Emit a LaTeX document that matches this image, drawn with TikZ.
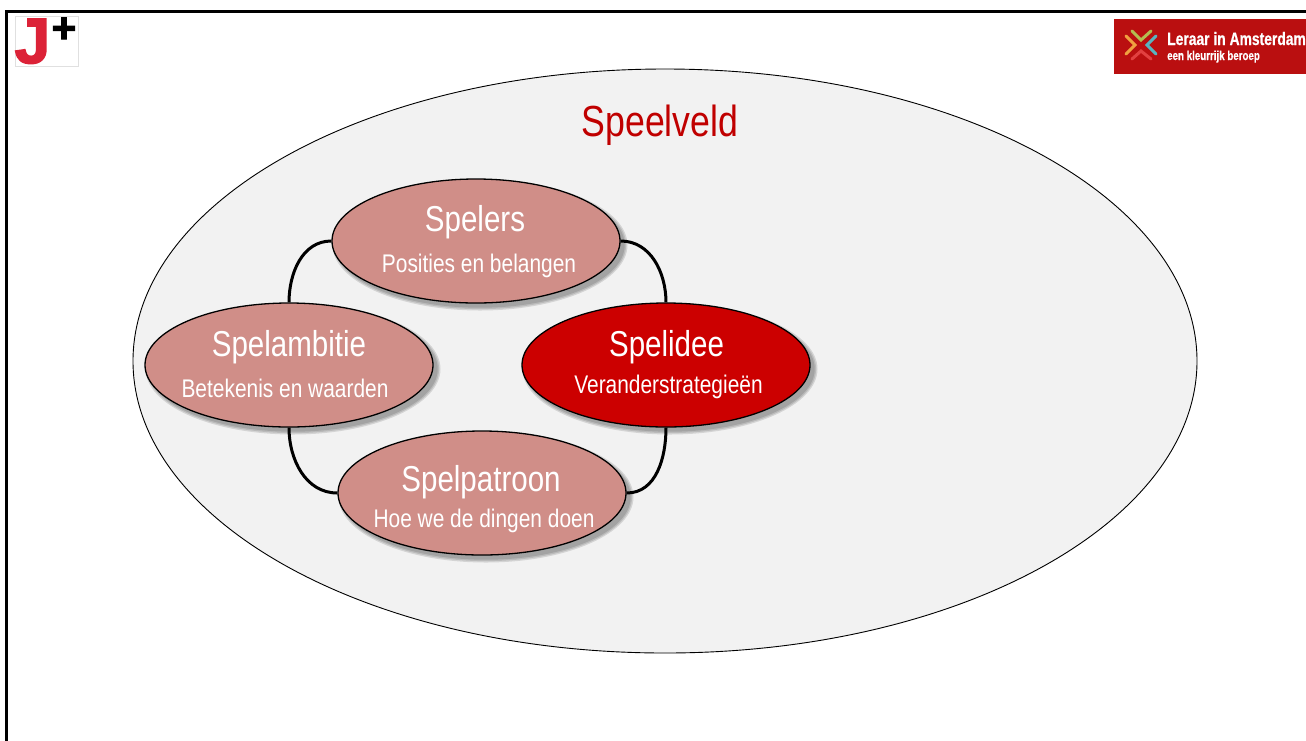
\documentclass[tikz,border=0pt]{standalone}
\usepackage{fontspec}
\setmainfont{Liberation Sans}
\newfontfamily\narrowf[FakeStretch=0.82]{Liberation Sans}
\newfontfamily\logof[FakeStretch=0.77,FakeBold=0.6]{Liberation Sans Bold}
\newfontfamily\logosub[FakeStretch=0.75,FakeBold=0.4]{Liberation Sans Bold}
\newfontfamily\jfont[FakeBold=2.5]{Liberation Sans Bold}
\usetikzlibrary{shapes.geometric}
\definecolor{veld}{HTML}{F2F2F2}
\definecolor{roze}{HTML}{D08E88}
\definecolor{rood}{HTML}{CC0000}
\definecolor{titel}{HTML}{C00000}
\definecolor{logorood}{HTML}{BA0F10}
\definecolor{jrood}{HTML}{DC2237}
\definecolor{chevgroen}{HTML}{B4BC50}
\definecolor{chevoranje}{HTML}{F0A040}
\definecolor{chevblauw}{HTML}{58B4C0}
\definecolor{chevrood}{HTML}{E24040}
\tikzset{
  x=1pt,y=-1pt,
  field/.style={ellipse,draw=black,line width=0.9pt,fill=veld,minimum width=1064pt,minimum height=584pt,inner sep=0pt},
  spel/.style={ellipse,draw=black,line width=1.3pt,minimum width=288pt,minimum height=124pt,inner sep=0pt},
  softroze/.style={spel,fill=roze},
  strongrood/.style={spel,fill=rood},
  kop/.style={anchor=base,text=white,inner sep=0pt,font=\narrowf\fontsize{36}{36}\selectfont},
  onder/.style={anchor=base,text=white,inner sep=0pt,font=\narrowf\fontsize{25.5}{25.5}\selectfont},
  link/.style={draw=black,line width=3pt},
  frameline/.style={draw=black,line width=3pt},
  chev/.style={line width=3pt,line cap=round,line join=miter},
}
\newcommand{\softshadow}[2]{%
  \foreach \g in {5,3,1}{%
    \fill[black,opacity=0.12] (#1+4,#2+4) ellipse [x radius=144+\g*0.7,y radius=62+\g*0.7];
  }%
}
\begin{document}
\begin{tikzpicture}
\useasboundingbox (0,0) rectangle (1306,740);
\fill[white] (0,0) rectangle (1306,740);
\draw[frameline] (6,745) -- (6,11) -- (1312,11);

% J+ logo
\node[draw=black!12,fill=white,line width=0.8pt,minimum width=63pt,minimum height=50pt,inner sep=0pt] (jbox) at (46.5,41) {};
\node[anchor=base,font=\jfont\fontsize{64}{64}\selectfont,text=jrood,inner sep=0pt] (jletter) at (32.5,63) {J};
\node[anchor=center,font=\jfont\fontsize{42}{42}\selectfont,text=black,inner sep=0pt] (jplus) at (64,30) {+};

% Leraar logo
\node[fill=logorood,minimum width=192pt,minimum height=55pt,inner sep=0pt] (lbox) at (1210,46.5) {};
\draw[chev,draw=chevoranje] (1126,36) -- (1135,45) -- (1126,54);
\draw[chev,draw=chevgroen] (1132,31) -- (1141,40) -- (1151,31);
\draw[chev,draw=chevblauw] (1156,36) -- (1147,45) -- (1156,54);
\draw[chev,draw=chevrood] (1132,59) -- (1141,51) -- (1151,59);
\node[anchor=base west,text=white,inner sep=0pt,font=\logof\fontsize{18}{18}\selectfont] (ltitle) at (1167,45) {Leraar in Amsterdam};
\node[anchor=base west,text=white,inner sep=0pt,font=\logosub\fontsize{13}{13}\selectfont] (lsub) at (1167,60) {een kleurrijk beroep};

% Field
\node[field] (veld) at (665,361) {};
\node[anchor=base,text=titel,inner sep=0pt,font=\narrowf\fontsize{43.5}{43.5}\selectfont] (veldtitel) at (660,136) {Speelveld};

% Shadows
\softshadow{476}{241}
\softshadow{289}{365}
\softshadow{666}{365}
\softshadow{482}{493}

% Ellipses
\node[softroze] (spelers) at (476,241) {};
\node[softroze] (ambitie) at (289,365) {};
\node[strongrood] (idee) at (666,365) {};
\node[softroze] (patroon) at (482,493) {};

% Texts
\node[kop] (spelerskop) at (475,231) {Spelers};
\node[onder] (spelersonder) at (479,272) {Posities en belangen};
\node[kop] (ambitiekop) at (289,356) {Spelambitie};
\node[onder] (ambitieonder) at (285,397) {Betekenis en waarden};
\node[kop] (ideekop) at (666.5,356) {Spelidee};
\node[onder] (ideeonder) at (668.5,393) {Veranderstrategieën};
\node[kop] (patroonkop) at (481,491) {Spelpatroon};
\node[onder] (patroononder) at (484,527) {Hoe we de dingen doen};

% Connectors
\draw[link] (spelers.west) to[out=180,in=90] (ambitie.north);
\draw[link] (spelers.east) to[out=0,in=90] (idee.north);
\draw[link] (ambitie.south) to[out=-90,in=180] (patroon.west);
\draw[link] (idee.south) to[out=-90,in=0] (patroon.east);
\end{tikzpicture}
\end{document}
